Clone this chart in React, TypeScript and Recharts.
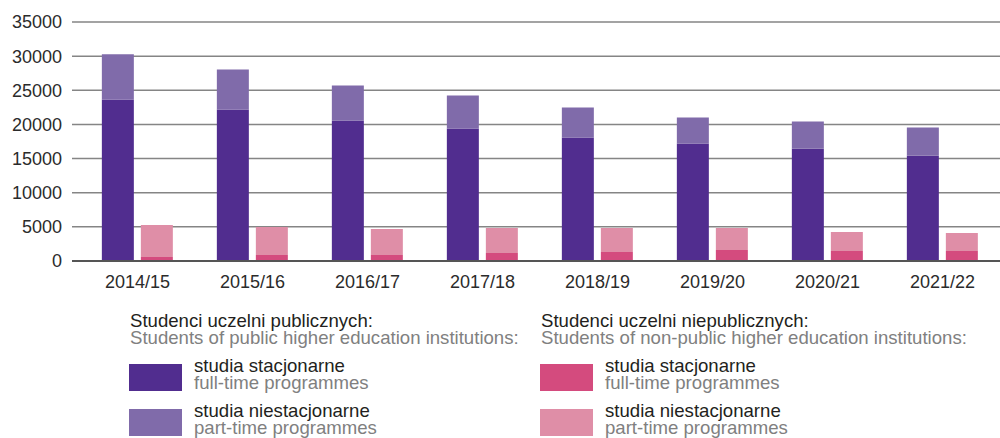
import React from "react";
import { BarChart, Bar, XAxis, YAxis, CartesianGrid } from "recharts";

const years = ["2014/15", "2015/16", "2016/17", "2017/18", "2018/19", "2019/20", "2020/21", "2021/22"];
const publicFullTime = [23650, 22180, 20570, 19390, 18070, 17190, 16450, 15430];
const publicPartTime = [6610, 5880, 5130, 4850, 4410, 3820, 3970, 4110];
const nonPublicFullTime = [590, 880, 880, 1180, 1320, 1620, 1470, 1470];
const nonPublicPartTime = [4700, 4110, 3820, 3670, 3530, 3230, 2790, 2640];
const yTicks = [0, 5000, 10000, 15000, 20000, 25000, 30000, 35000];

const COLORS = {
  pubFull: "#512D8F",
  pubPart: "#806BAA",
  npFull: "#D44B7E",
  npPart: "#DF8EA7"
};

const data = years.map((year, i) => ({
  year,
  pubFull: publicFullTime[i],
  pubPart: publicPartTime[i],
  npFull: nonPublicFullTime[i],
  npPart: nonPublicPartTime[i]
}));

const FONT = '"Liberation Sans", Arial, sans-serif';

const LegendGroup = ({ left, title, subtitle, items }: any) => (
  <div style={{ position: "absolute", left, top: 0, fontSize: 18.6 }}>
    <div style={{ position: "absolute", left: 1, top: 312, whiteSpace: "nowrap", lineHeight: "17px" }}>
      <div style={{ color: "#231f20" }}>{title}</div>
      <div style={{ color: "#808080" }}>{subtitle}</div>
    </div>
    {items.map((it: any, i: number) => (
      <React.Fragment key={i}>
        <div
          style={{
            position: "absolute",
            left: 0,
            top: 364 + i * 45,
            width: 53,
            height: 27,
            background: it.color
          }}
        />
        <div
          style={{
            position: "absolute",
            left: 65,
            top: 358 + i * 45,
            whiteSpace: "nowrap",
            lineHeight: "16.5px"
          }}
        >
          <div style={{ color: "#231f20" }}>{it.pl}</div>
          <div style={{ color: "#808080" }}>{it.en}</div>
        </div>
      </React.Fragment>
    ))}
  </div>
);

export default function App() {
  return (
    <div
      style={{
        position: "absolute",
        left: 0,
        top: 0,
        width: 1000,
        height: 438,
        background: "#ffffff",
        fontFamily: FONT,
        fontSize: 18,
        overflow: "hidden"
      }}
    >
      <BarChart
        width={1000}
        height={300}
        data={data}
        margin={{ top: 22, right: 0, left: 0, bottom: 9 }}
        barCategoryGap="19%"
        barGap={7}
      >
        <CartesianGrid vertical={false} stroke="#858585" strokeWidth={1.5} />
        <XAxis
          dataKey="year"
          height={30}
          padding={{ left: 8, right: 0 }}
          tickLine={false}
          tickSize={0}
          tickMargin={14}
          axisLine={{ stroke: "#555555", strokeWidth: 2 }}
          tick={{ fill: "#2b2b2b", fontSize: 18, fontFamily: FONT }}
        />
        <YAxis
          width={72}
          domain={[0, 35000]}
          ticks={yTicks}
          interval={0}
          axisLine={false}
          tickLine={false}
          tickSize={0}
          tickMargin={10}
          tick={{ fill: "#2b2b2b", fontSize: 18, fontFamily: FONT }}
        />
        <Bar dataKey="pubFull" stackId="pub" fill={COLORS.pubFull} isAnimationActive={false} />
        <Bar dataKey="pubPart" stackId="pub" fill={COLORS.pubPart} isAnimationActive={false} />
        <Bar dataKey="npFull" stackId="np" fill={COLORS.npFull} isAnimationActive={false} />
        <Bar dataKey="npPart" stackId="np" fill={COLORS.npPart} isAnimationActive={false} />
      </BarChart>
      <LegendGroup
        left={129}
        title="Studenci uczelni publicznych:"
        subtitle="Students of public higher education institutions:"
        items={[
          { color: COLORS.pubFull, pl: "studia stacjonarne", en: "full-time programmes" },
          { color: COLORS.pubPart, pl: "studia niestacjonarne", en: "part-time programmes" }
        ]}
      />
      <LegendGroup
        left={540}
        title="Studenci uczelni niepublicznych:"
        subtitle="Students of non-public higher education institutions:"
        items={[
          { color: COLORS.npFull, pl: "studia stacjonarne", en: "full-time programmes" },
          { color: COLORS.npPart, pl: "studia niestacjonarne", en: "part-time programmes" }
        ]}
      />
    </div>
  );
}
